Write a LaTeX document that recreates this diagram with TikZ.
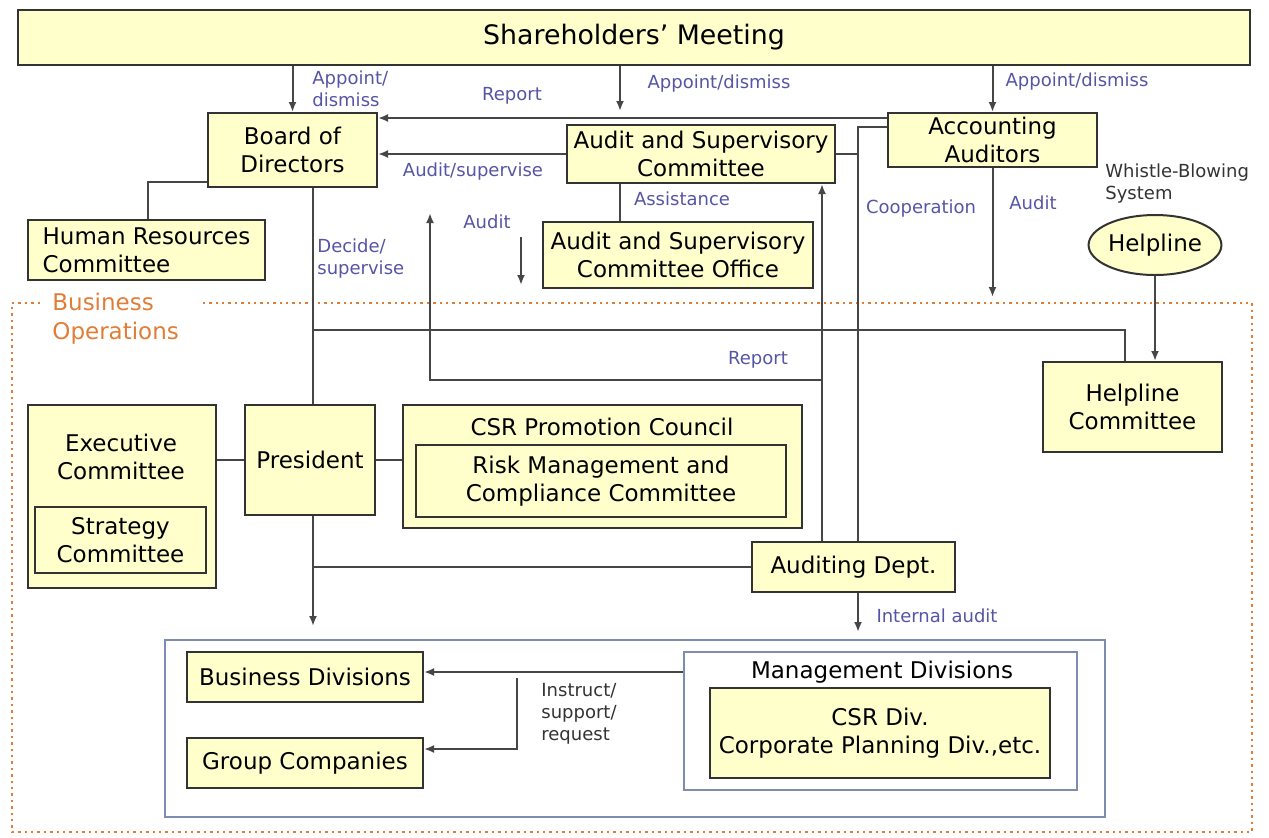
\documentclass[tikz,border=0pt]{standalone}
\usepackage{fontspec}
\setmainfont{DejaVu Sans}
\usetikzlibrary{arrows.meta,shapes.geometric}
\definecolor{boxfill}{RGB}{255,255,204}
\definecolor{boxline}{RGB}{51,51,51}
\definecolor{conline}{RGB}{70,70,70}
\definecolor{lblblue}{RGB}{85,85,165}
\definecolor{opsorange}{RGB}{225,125,55}
\definecolor{divline}{RGB}{125,140,175}
\newcommand{\boxfont}{\fontsize{11.5}{14}\selectfont}
\newcommand{\lblfont}{\fontsize{9}{11}\selectfont}
\tikzset{
  box/.style={draw=boxline,fill=boxfill,line width=1pt,align=center,inner sep=0pt,font=\boxfont},
  sz/.style 2 args={minimum width=#1*0.5pt,minimum height=#2*0.5pt},
  con/.style={draw=conline,line width=1pt},
  arr/.style={con,-{Latex[length=5pt,width=4pt]}},
  lbl/.style={text=lblblue,font=\lblfont,align=left,inner sep=0pt},
  note/.style={text=black!80,font=\lblfont,align=left,inner sep=0pt},
  title/.style={font=\boxfont,align=center,inner sep=0pt},
}
\begin{document}
\begin{tikzpicture}[x=0.5pt,y=-0.5pt]
        \useasboundingbox(0,0)rectangle(1269,837);
        \draw[opsorange,dotted,line width=1.2pt](40,303)-|(12,832)-|(1252,303)--(200,303);
        \node[text=opsorange,font=\fontsize{11.5}{14.5}\selectfont,align=left,anchor=north west,inner sep=0pt](busops)at(52,293){Business\\Operations};

        \node[box,sz={1232}{55},font=\fontsize{13.4}{16}\selectfont](sm)at(634,37.5){Shareholders’ Meeting};
        \node[box,sz={169}{74}](board)at(292.5,150){Board of\\Directors};
        \node[box,sz={268}{58}](asc)at(701,154){Audit and Supervisory\\Committee};
        \node[box,sz={209}{54}](acc)at(992.5,140){Accounting\\Auditors};
        \node[box,sz={237}{60},align=left](hrc)at(146.5,250){Human Resources\\Committee};
        \node[box,sz={270}{66}](asco)at(678,255){Audit and Supervisory\\Committee Office};
        \node[box,ellipse,sz={116}{60}](help)at(1155,245){Helpline};
        \node[box,sz={179}{90}](hlc)at(1132.5,407){Helpline\\Committee};

        \node[box,sz={188}{183}](exec)at(122,496.5){};
        \node[title](exectitle)at(121,457){Executive\\Committee};
        \node[box,sz={171}{66}](strat)at(120.5,540){Strategy\\Committee};
        \node[box,sz={130}{110}](pres)at(310,460){President};
        \node[box,sz={399}{123}](csr)at(602.5,466.5){};
        \node[title](csrtitle)at(602,427){CSR Promotion Council};
        \node[box,sz={370}{72}](risk)at(601,481){Risk Management and\\Compliance Committee};
        \node[box,sz={203}{50}](aud)at(853.5,567){Auditing Dept.};

        \node[draw=divline,line width=1.2pt,inner sep=0pt,sz={940}{177}](divs)at(635,728.5){};
        \node[box,sz={236}{50}](bdiv)at(305,677){Business Divisions};
        \node[box,sz={236}{50}](grp)at(305,763){Group Companies};
        \node[draw=divline,fill=white,line width=1.2pt,inner sep=0pt,sz={393}{138}](mgmt)at(880.5,721){};
        \node[title](mgmttitle)at(882,672){Management Divisions};
        \node[box,sz={340}{90}](csrdiv)at(880,733){CSR Div.\\Corporate Planning Div.,etc.};

        \draw[arr](sm.south-|board.north)--(board.north);
        \coordinate(ascin)at(620,111);
        \draw[arr](sm.south-|ascin)--(ascin);
        \draw[arr](sm.south-|acc.north)--(acc.north);
        \node[lbl,anchor=west](l1)at(312,89){Appoint/\\dismiss};
        \node[lbl](l2)at(719,84){Appoint/dismiss};
        \node[lbl](l3)at(1077,82){Appoint/dismiss};
        \node[lbl](l4)at(512,96){Report};

        \draw[arr](acc.west|-0,118)--(board.east|-0,118);
        \draw[arr](asc.west)--(board.east|-asc.west);
        \node[lbl](l5)at(473,172){Audit/supervise};
        \coordinate(auda)at(521,237);
        \coordinate(audb)at(521,285);
        \draw[arr](auda)--(audb);
        \node[lbl](l6)at(487,222){Audit};

        \draw[con](asc.east)--(asc.east-|858,0);
        \draw[con](acc.west|-0,127)-|(aud.north-|858,0);
        \node[lbl](l7)at(921,209){Cooperation};
        \draw[arr](acc.south)--(acc.south|-0,297);
        \node[lbl](l8)at(1033,203){Audit};
        \node[note,anchor=west](whistle)at(1105,184){Whistle-Blowing\\System};

        \draw[arr](aud.north-|822,0)--(asc.south-|822,0);
        \coordinate(rep)at(822,380);
        \draw[arr](rep)-|(430,213);
        \node[lbl](l9)at(758,360){Report};

        \draw[con](asc.south-|620,0)--(asco.north-|620,0);
        \node[lbl](l10)at(682,199){Assistance};
        \draw[con](board.west|-0,182)-|(hrc.north-|148,0);
        \draw[con](board.south-|313,0)--(pres.north-|313,0);
        \node[lbl,anchor=west](l11)at(317,259){Decide/\\supervise};
        \draw[con](313,330)-|(hlc.north-|1125,0);
        \draw[arr](help.south)--(hlc.north-|help.south);

        \draw[con](pres.west)--(pres.west-|exec.east);
        \draw[con](pres.east)--(pres.east-|csr.west);
        \draw[arr](pres.south-|313,0)--(313,626);
        \draw[con](aud.west)--(aud.west-|313,0);
        \draw[arr](aud.south-|858,0)--(858,632);
        \node[lbl](l12)at(937,616){Internal audit};

        \draw[arr](mgmt.west|-0,672)--(bdiv.east|-0,672);
        \draw[arr](517,678)|-(grp.east|-0,749);
        \node[note,anchor=north west](l13)at(541,683){Instruct/\\support/\\request};
    \end{tikzpicture}
\end{document}
